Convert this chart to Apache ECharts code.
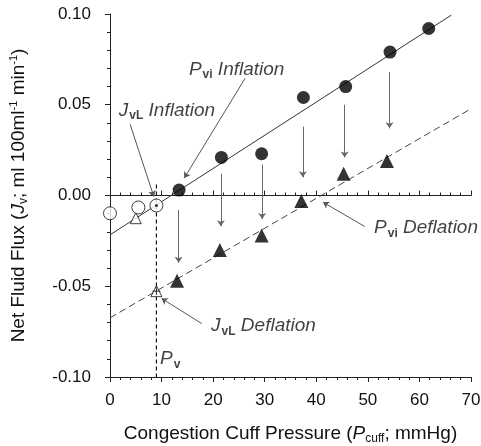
<!DOCTYPE html>
<html>
<head>
<meta charset="utf-8">
<script src="https://cdn.jsdelivr.net/npm/echarts@6/dist/echarts.min.js"></script>
<style>
  html, body { margin: 0; padding: 0; background: #fff; }
  #chart { width: 481px; height: 446px; }
</style>
</head>
<body>
<div id="chart"></div>
<script>
// values
const inflationX = [13.4, 21.6, 29.4, 37.5, 45.7, 54.3, 61.8]
const inflationY = [0.003, 0.021, 0.023, 0.054, 0.060, 0.079, 0.092]
const deflationX = [13.0, 21.3, 29.4, 37.1, 45.3, 53.7]
const deflationY = [-0.047, -0.030, -0.022, -0.003, 0.012, 0.019]
const baseCircleX = [0, 5.5]
const baseCircleY = [-0.0098, -0.0066]
const baseTriX = [5.0]
const baseTriY = [-0.0125]
const pvX = 9
const pvCircleY = -0.0055
const pvTriY = -0.0527
const pvLineY = [0.006, -0.10]
const inflationFit = [[0, -0.0217], [66.2, 0.0994]]
const deflationFit = [[0, -0.0674], [70, 0.0478]]
const shiftX = [13.3, 21.5, 29.5, 37.4, 45.5, 54.2]
const shiftFrom = [-0.008, 0.012, 0.017, 0.038, 0.050, 0.068]
const shiftTo = [-0.037, -0.017, -0.013, 0.010, 0.021, 0.037]
const xTicks = [0, 10, 20, 30, 40, 50, 60, 70]
const yTicks = [-0.10, -0.05, 0.00, 0.05, 0.10]

// annotations: text anchor + pointer arrow
const notes = [
  { text: '{i|P}{sub|vi}{i| Inflation}', at: [15.3, 0.0695], from: [26.2, 0.0646], to: [14.4, 0.0096] },
  { text: '{i|J}{sub|vL}{i| Inflation}', at: [1.7, 0.0468], from: [3.9, 0.0392], to: [8.5, -0.0006] },
  { text: '{i|P}{sub|vi}{i| Deflation}', at: [51.2, -0.0178], from: [49.4, -0.0171], to: [41.3, -0.0037] },
  { text: '{i|J}{sub|vL}{i| Deflation}', at: [19.6, -0.0720], from: [17.8, -0.0706], to: [10.0, -0.0567] },
  { text: '{i|P}{sub|v}', at: [9.7, -0.0902] }
]

const font = 'Liberation Sans, Arial, sans-serif'
const rich = {
  i: { fontFamily: font, fontSize: 19, fontStyle: 'italic', color: '#111' },
  sub: { fontFamily: font, fontSize: 12, fontWeight: 'bold', color: '#111', padding: [11, 0, 0, 1] }
}

const chart = echarts.init(document.getElementById('chart'))

const plusSymbol = 'path://M5,0L5,10M0,5L10,5'

let option = {
  animation: false,
  grid: { left: 110, right: 10, top: 14, bottom: 69, outerBoundsMode: 'none' },
  xAxis: [{
    type: 'value',
    min: 0, max: 70, interval: 10,
    splitLine: { show: false },
    axisLine: { onZero: false, lineStyle: { color: '#222', width: 1 } },
    axisTick: { inside: false, length: 5, lineStyle: { color: '#222' } },
    minorTick: { show: true, splitNumber: 5, length: 3, lineStyle: { color: '#222' } },
    axisLabel: { margin: 15, fontSize: 17, color: '#111', fontFamily: font,
      formatter: v => xTicks.includes(v) ? String(v) : '' },
    name: '{t|Congestion Cuff Pressure (}{i|P}{s|cuff}{t|; mmHg)}',
    nameLocation: 'middle', nameGap: 46,
    nameTextStyle: { rich: {
      t: { fontFamily: font, fontSize: 19, color: '#111' },
      i: { fontFamily: font, fontSize: 19, fontStyle: 'italic', color: '#111' },
      s: { fontFamily: font, fontSize: 12, color: '#111', padding: [10, 0, 0, 0] }
    } }
  }, {
    type: 'value',
    position: 'top',
    min: 0, max: 70, interval: 10,
    splitLine: { show: false },
    axisLine: { onZero: true, lineStyle: { color: '#222', width: 1 } },
    axisTick: { inside: false, length: 5, lineStyle: { color: '#222' } },
    minorTick: { show: true, splitNumber: 5, length: 3, lineStyle: { color: '#222' } },
    axisLabel: { show: false }
  }],
  yAxis: {
    type: 'value',
    min: -0.10, max: 0.10, interval: 0.05,
    splitLine: { show: false },
    axisLine: { onZero: false, lineStyle: { color: '#222', width: 1 } },
    axisTick: { inside: false, length: 5, lineStyle: { color: '#222' } },
    minorTick: { show: true, splitNumber: 5, length: 3, lineStyle: { color: '#222' } },
    axisLabel: { margin: 19, fontSize: 17, color: '#111', fontFamily: font,
      formatter: v => v.toFixed(2) },
    name: '{t|Net Fluid Flux (}{i|J}{s|v}{t|; ml 100ml}{p|-1}{t| min}{p|-1}{t|)}',
    nameLocation: 'middle', nameGap: 80, nameRotate: 90,
    nameTextStyle: { rich: {
      t: { fontFamily: font, fontSize: 19, color: '#111' },
      i: { fontFamily: font, fontSize: 19, fontStyle: 'italic', color: '#111' },
      s: { fontFamily: font, fontSize: 12, color: '#111', padding: [10, 0, 0, 0] },
      p: { fontFamily: font, fontSize: 11, color: '#111', padding: [0, 0, 10, 0] }
    } }
  },
  series: [
    {
      type: 'line', data: inflationFit, symbol: 'none',
      lineStyle: { color: '#333', width: 1 }, z: 1
    },
    {
      type: 'line', data: deflationFit, symbol: 'none',
      lineStyle: { color: '#444', width: 1, type: [7, 4] }, z: 1
    },
    {
      type: 'line', data: pvLineY.map(y => [pvX, y]), symbol: 'none',
      lineStyle: { color: '#111', width: 1.2, type: [4, 3] }, z: 1
    },
    {
      type: 'lines', coordinateSystem: 'cartesian2d',
      data: shiftX.map((x, i) => ({ coords: [[x, shiftFrom[i]], [x, shiftTo[i]]] })),
      symbol: ['none', 'arrow'], symbolSize: 6,
      lineStyle: { color: '#666', width: 1, opacity: 1 }, z: 2
    },
    {
      type: 'lines', coordinateSystem: 'cartesian2d',
      data: notes.filter(n => n.from).map(n => ({ coords: [n.from, n.to] })),
      symbol: ['none', 'arrow'], symbolSize: 6,
      lineStyle: { color: '#555', width: 1, opacity: 1 }, z: 2
    },
    {
      type: 'scatter', data: inflationX.map((x, i) => [x, inflationY[i]]),
      symbol: 'circle', symbolSize: 13, itemStyle: { color: '#000' }, z: 5
    },
    {
      type: 'scatter', data: deflationX.map((x, i) => [x, deflationY[i]]),
      symbol: 'triangle', symbolSize: 14, itemStyle: { color: '#000' }, z: 5
    },
    {
      type: 'scatter', data: baseTriX.map((x, i) => [x, baseTriY[i]]),
      symbol: 'triangle', symbolSize: 11,
      itemStyle: { color: '#fff', borderColor: '#111', borderWidth: 1 }, z: 5
    },
    {
      type: 'scatter', data: baseCircleX.map((x, i) => [x, baseCircleY[i]]).concat([[pvX, pvCircleY]]),
      symbol: 'circle', symbolSize: 13,
      itemStyle: { color: '#fff', borderColor: '#111', borderWidth: 1 }, z: 6
    },
    {
      type: 'scatter', data: [[pvX, pvTriY]],
      symbol: 'triangle', symbolSize: 11,
      itemStyle: { color: '#fff', borderColor: '#111', borderWidth: 1 }, z: 5
    },
    {
      type: 'scatter', data: [[pvX, pvCircleY]],
      symbol: 'circle', symbolSize: 3, itemStyle: { color: '#000' }, z: 7
    },
    {
      type: 'scatter', data: [[pvX, pvTriY]],
      symbol: plusSymbol, symbolSize: 8,
      itemStyle: { color: 'none', borderColor: '#000', borderWidth: 1 }, z: 7
    },
    {
      type: 'scatter', symbolSize: 0, z: 8,
      data: notes.map(n => ({ value: n.at, label: { formatter: n.text } })),
      label: { show: true, position: 'right', distance: 0, rich: rich }
    }
  ]
}

chart.setOption(option)
</script>
</body>
</html>
